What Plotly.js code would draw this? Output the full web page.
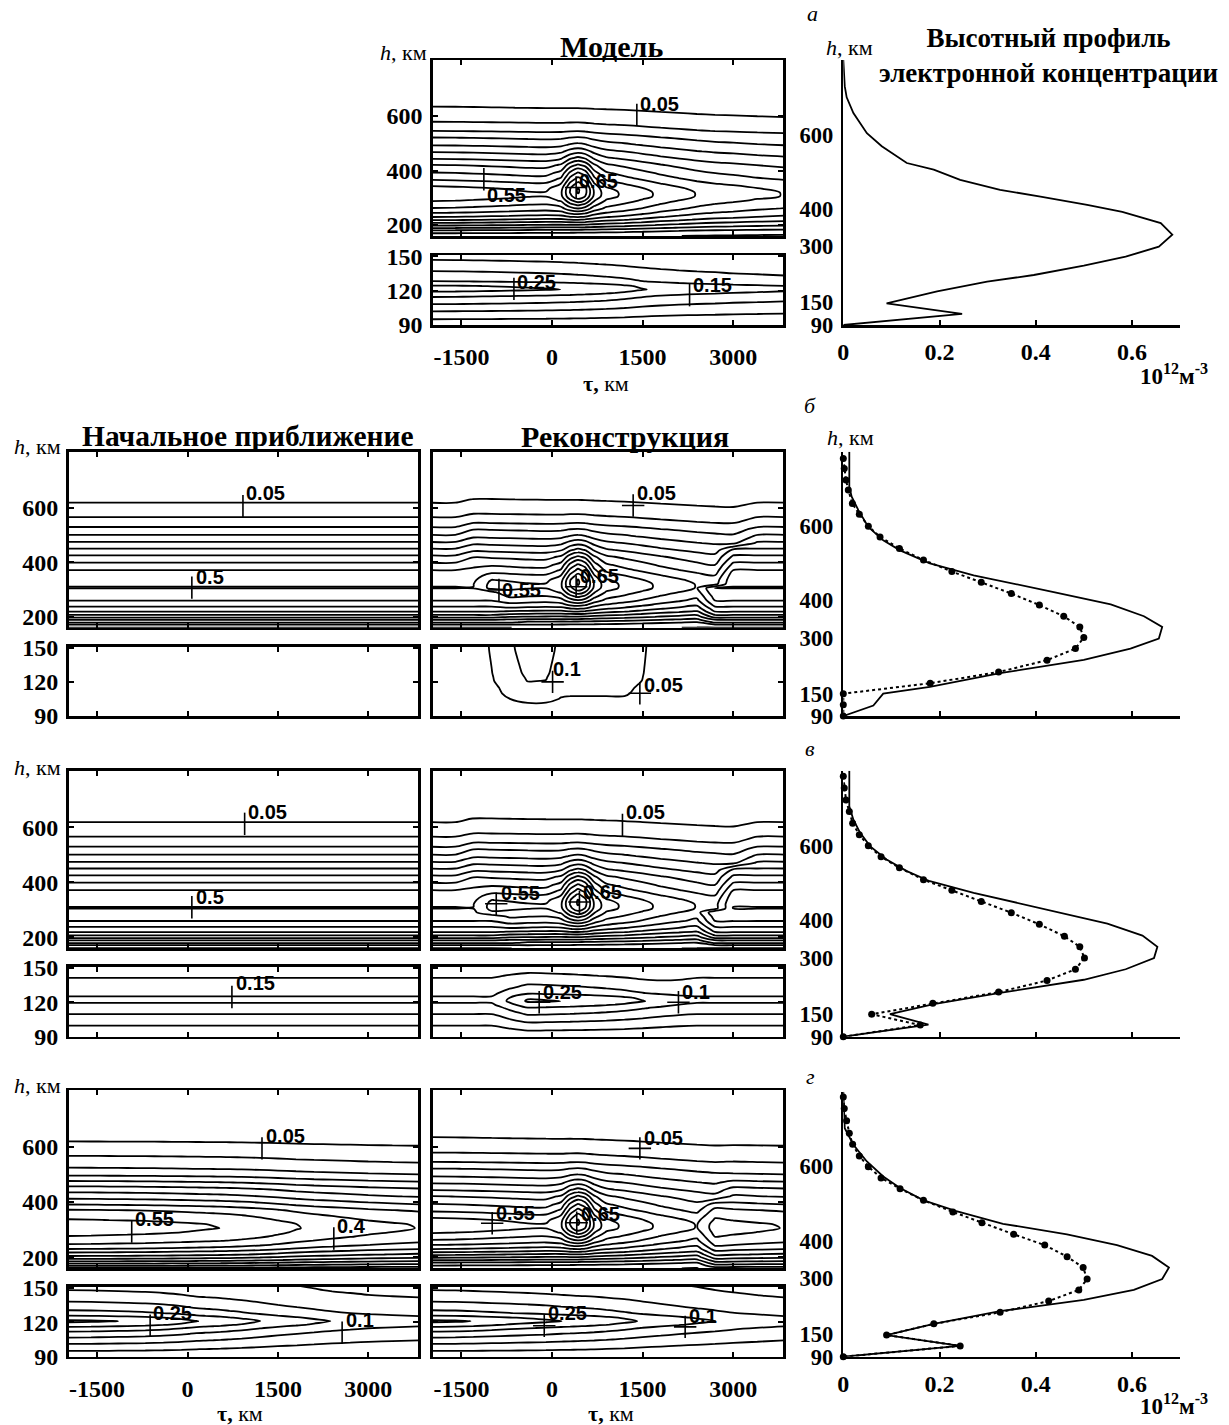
<!DOCTYPE html>
<html><head><meta charset="utf-8">
<script src="https://cdn.plot.ly/plotly-3.0.1.min.js"></script>
<style>html,body{margin:0;padding:0;background:#fff}#chart{width:1229px;height:1425px}</style>
</head><body><div id="chart"></div>
<script>
// ---------------- data ----------------
const TAU = [-2000,-1600,-1300,-1000,-700,-400,-100,150,300,430,550,700,900,1200,1500,1800,2100,2400,2700,3000,3400,3850];
const H_UP = [160,170,180,190,200,210,220,230,245,260,275,290,305,320,335,350,370,390,420,445,470,495,520,545,580,630,700,810];
const H_LO = [90,95,100,105,110,115,118,121,124,128,133,138,143,148,152];

// model: vertical profile at left edge, horizontal factor, local enhancement
const P_MODEL = [0.07,0.10,0.145,0.205,0.26,0.31,0.36,0.402,0.452,0.495,0.525,0.555,0.58,0.58,0.565,0.535,0.49,0.455,0.402,0.345,0.295,0.245,0.202,0.15,0.098,0.052,0.02,0.004];
const G_MODEL = [1.0,0.993,0.985,0.975,0.965,0.953,0.94,0.928,0.92,0.91,0.902,0.892,0.875,0.845,0.8,0.755,0.72,0.685,0.66,0.645,0.62,0.60];
const PE_MODEL = [0.0,0.05,0.085,0.125,0.165,0.205,0.24,0.27,0.255,0.202,0.17,0.145,0.115,0.095,0.085];
const GE_MODEL = [1.0,0.993,0.985,0.975,0.965,0.953,0.94,0.925,0.915,0.903,0.893,0.878,0.855,0.81,0.75,0.71,0.68,0.66,0.645,0.625,0.61,0.59];
const BUMP_AMP = 0.24;
const BUMP_H = [0,0,0.01,0.02,0.04,0.07,0.11,0.16,0.26,0.4,0.56,0.72,0.86,0.95,1.0,0.98,0.92,0.82,0.6,0.42,0.27,0.16,0.09,0.05,0.02,0.005,0,0];
const BUMP_T = [0,0,0,0,0,0,0.03,0.24,0.74,1.0,0.85,0.34,0.05,0,0,0,0,0,0,0,0,0];

// initial approximations
const P_INIT_BV = [0.048,0.09,0.16,0.205,0.27,0.315,0.355,0.38,0.42,0.452,0.47,0.49,0.5005,0.499,0.49,0.48,0.452,0.415,0.36,0.31,0.258,0.21,0.164,0.125,0.082,0.04,0.013,0.003];
const PE_INIT_B = [0,0,0,0,0,0,0,0,0,0,0,0,0,0,0];
const PE_INIT_V = [0.0,0.027,0.052,0.075,0.102,0.125,0.142,0.158,0.154,0.14,0.125,0.11,0.095,0.08,0.07];
const P_INIT_G = [0.09,0.16,0.22,0.28,0.33,0.375,0.41,0.451,0.495,0.525,0.548,0.565,0.575,0.572,0.553,0.535,0.505,0.452,0.38,0.33,0.265,0.201,0.155,0.125,0.085,0.04,0.013,0.003];
const G_INIT_G = [1.0,0.997,0.993,0.99,0.986,0.98,0.973,0.966,0.962,0.959,0.956,0.95,0.94,0.923,0.9,0.875,0.855,0.84,0.825,0.81,0.795,0.78];
const PE_INIT_G = [0.0,0.05,0.09,0.135,0.18,0.235,0.28,0.31,0.275,0.22,0.18,0.15,0.12,0.1,0.09];
const GE_INIT_G = [1.0,0.99,0.975,0.96,0.94,0.91,0.865,0.81,0.79,0.775,0.76,0.735,0.705,0.65,0.6,0.56,0.52,0.48,0.455,0.43,0.41,0.39];

// reconstructions: window edges (upper) and weights (lower)
const EDGE_H = [160,250,400,810];
const B_LEFT = [-650,-850,-1350,-1500], B_RIGHT = [2450,2550,2950,3250];
const V_LEFT = [-600,-900,-1350,-1500], V_RIGHT = [2500,2600,2950,3250];
const G_LEFT = [-2500,-2500,-2500,-2500], G_RIGHT = [2600,2650,2700,2700];
const PE_RECON_B = [0,0.012,0.03,0.045,0.055,0.06,0.065,0.07,0.072,0.075,0.077,0.079,0.081,0.083,0.084];
const W_LO_B = [0,0,0.3,0.65,1.1,1.45,1.42,1.05,1.0,1.0,1.0,1.0,1.0,1.0,0.7,0.2,0,0,0,0,0,0];
const W_LO_V = [0,0,0,0,0.5,1,1,1,1,1,1,1,1,1,1,0.8,0.4,0,0,0,0,0];
const W_LO_G = [0,0,0.1,0.3,0.5,0.6,0.65,0.65,0.65,0.65,0.65,0.65,0.6,0.6,0.55,0.5,0.45,0.4,0.3,0.2,0.1,0];

// contour labels: [text, mark tau, mark h, text tau, text h, mark style]
const LBL_MODEL_UP = [['0.05',1405,604,1430,645,'|'],['0.55',-1128,368,-1111,310,'|'],['0.65',400,338,420,362,'+']];
const LBL_MODEL_LO = [['0.25',-630,121.5,-614,127.7,'|'],['0.15',2278,116,2295,125,'|']];
const LBL_INIT_B_UP = [['0.05',920,605,943,654,'|'],['0.5',72,307,100,346,'|']];
const LBL_RECON_B_UP = [['0.05',1344,608,1372,654,'+'],['0.55',-878,298,-855,298,'+'],['0.65',400,310,430,350,'+']];
const LBL_RECON_B_LO = [['0.1',10,120,-17,131.5,'+'],['0.05',1455,110,1484,117,'+']];
const LBL_INIT_V_UP = [['0.05',948,612,970,654,'|'],['0.5',72,309,100,346,'|']];
const LBL_INIT_V_LO = [['0.15',737,124.6,765,136.5,'|']];
const LBL_RECON_V_UP = [['0.05',1167,608,1187,654,'|'],['0.55',-923,322,-878,362,'+'],['0.65',455,328,480,365,'+']];
const LBL_RECON_V_LO = [['0.25',-212,120,-183,129,'+'],['0.1',2094,120,2117,129,'+']];
const LBL_INIT_G_UP = [['0.05',1236,594,1264,639,'|'],['0.55',-926,293,-900,337,'|'],['0.4',2428,268,2450,314,'|']];
const LBL_INIT_G_LO = [['0.25',-620,117,-604,128,'|'],['0.1',2566,111,2594,122,'|']];
const LBL_RECON_G_UP = [['0.05',1455,594,1484,633,'+'],['0.55',-990,323,-962,361,'+'],['0.65',410,325,450,355,'+']];
const LBL_RECON_G_LO = [['0.25',-128,117,-100,128,'+'],['0.1',2205,116,2233,125.5,'+']];

// height profiles (10^12 m^-3 vs km)
const PA_H = [800,760,730,700,658,604,569,524,506,479,452,434,412,393,363,332,300,273,249,224,206,180,148,120,90];
const PA_V = [0,0.001,0.003,0.007,0.021,0.049,0.080,0.132,0.188,0.243,0.326,0.41,0.507,0.58,0.66,0.684,0.656,0.587,0.5,0.396,0.299,0.195,0.09,0.247,0];
const PB_SOLID_H = [800,706,679,643,598,562,535,500,468,446,423,390,358,329,298,271,241,205,168,150,118,90];
const PB_SOLID_V = [0.0125,0.0125,0.0174,0.0313,0.052,0.083,0.118,0.18,0.271,0.354,0.4375,0.556,0.625,0.663,0.656,0.597,0.5,0.326,0.18,0.083,0.0625,0];
const PB_DOT_H = [782,755,724,697,661,632,600,571,540,509,478,449,419,388,358,329,301,271,240,208,178,150,120,90];
const PB_DOT_V = [0,0.002,0.0056,0.0104,0.0188,0.0333,0.0521,0.0764,0.1167,0.1667,0.2257,0.2868,0.3493,0.4076,0.4583,0.4917,0.5,0.4826,0.4236,0.3229,0.1806,0,0,0];
const PV_SOLID_H = [800,705,669,634,598,563,532,505,474,452,421,392,360,330,300,270,242,207,177,150,122,90];
const PV_SOLID_V = [0.0125,0.0125,0.021,0.035,0.056,0.09,0.132,0.18,0.271,0.347,0.451,0.549,0.622,0.653,0.646,0.587,0.5,0.326,0.188,0.097,0.177,0];
const PV_DOT_H = [785,754,722,691,660,629,600,570,541,509,481,451,421,390,358,330,300,270,240,209,179,150,121,90];
const PV_DOT_V = [0,0.002,0.0056,0.0125,0.0194,0.0333,0.052,0.0785,0.1167,0.1667,0.2257,0.2868,0.3493,0.4076,0.4597,0.4917,0.5014,0.4826,0.4236,0.3229,0.1861,0.059,0.16,0];
const PG_SOLID_H = [800,702,658,613,573,542,509,480,446,418,389,360,329,298,269,242,212,178,148,119,90];
const PG_SOLID_V = [0,0.003,0.021,0.049,0.083,0.118,0.167,0.235,0.332,0.465,0.569,0.642,0.677,0.663,0.604,0.5,0.326,0.188,0.09,0.243,0];
const PG_DOT_H = [786,755,722,689,659,628,599,569,540,509,478,449,418,389,358,329,298,269,239,209,178,148,119,90];
const PG_DOT_V = [0,0.002,0.0069,0.0125,0.0194,0.0333,0.052,0.0785,0.118,0.1667,0.2278,0.2882,0.3542,0.4188,0.4653,0.4986,0.5069,0.4896,0.427,0.326,0.1882,0.09,0.243,0];

const TAU_TICKS = [-1500,0,1500,3000], TAU_TICKTEXT = ['-1500','0','1500','3000'];
const UP_TICKS = [200,400,600], LO_TICKS = [90,120,150];
const PROF_XTICKS = [0,0.2,0.4,0.6], PROF_XTEXT = ['0','0.2','0.4','0.6'];
const PROF_YTICKS = [90,150,300,400,600];

// ---------------- fields (tables built from the arrays) ----------------
const outer = (P,G) => P.map(p => G.map(g => p*g));
const flat = P => P.map(p => TAU.map(() => p));
function edgeAt(hs, es, h){
  for (let i=0;i<hs.length-1;i++){ if (h<=hs[i+1]) { const f=(h-hs[i])/(hs[i+1]-hs[i]); return es[i]+f*(es[i+1]-es[i]); } }
  return es[es.length-1];
}
const mask = (L,R) => H_UP.map(h => { const l=edgeAt(EDGE_H,L,h), r=edgeAt(EDGE_H,R,h); return TAU.map(t => (t>=l && t<=r)?1:0); });
const blend = (A,B,W) => A.map((row,i)=>row.map((a,j)=>W[i][j]*a+(1-W[i][j])*B[i][j]));
const colW = w => H_LO.map(() => w.slice());

const zModelUp = P_MODEL.map((p,i)=>G_MODEL.map((g,j)=>p*g + BUMP_AMP*BUMP_H[i]*BUMP_T[j]));
const zModelLo = outer(PE_MODEL, GE_MODEL);
const zInitBVUp = flat(P_INIT_BV);
const zInitBLo = flat(PE_INIT_B);
const zInitVLo = flat(PE_INIT_V);
const zInitGUp = outer(P_INIT_G, G_INIT_G);
const zInitGLo = outer(PE_INIT_G, GE_INIT_G);
const zReconBUp = blend(zModelUp, zInitBVUp, mask(B_LEFT,B_RIGHT));
const zReconBLo = outer(PE_RECON_B, W_LO_B);
const zReconVUp = blend(zModelUp, zInitBVUp, mask(V_LEFT,V_RIGHT));
const zReconVLo = blend(zModelLo, zInitVLo, colW(W_LO_V));
const zReconGUp = blend(zModelUp, zInitGUp, mask(G_LEFT,G_RIGHT));
const zReconGLo = blend(zModelLo, zInitGLo, colW(W_LO_G));

// ---------------- layout ----------------
const W = 1229, H = 1425;
const SERIF = 'Liberation Serif, "Times New Roman", serif';
const SANS = 'Liberation Sans, Arial, sans-serif';
const TICKFONT = {family:SERIF, size:24, color:'#000', weight:'bold'};
const PTICKFONT = {family:SERIF, size:22.5, color:'#000', weight:'bold'};
const traces = [];
const layout = {width:W, height:H, margin:{l:0,r:0,t:0,b:0}, paper_bgcolor:'#fff', plot_bgcolor:'rgba(0,0,0,0)', showlegend:false, annotations:[], font:{family:SERIF,color:'#000'}};
let nAx = 0;
function mkAxes(xpx, ypx, xo, yo){
  nAx++;
  const s = nAx===1 ? '' : String(nAx);
  layout['xaxis'+s] = Object.assign({domain:[xpx[0]/W, xpx[1]/W], anchor:'y'+s, fixedrange:true}, xo);
  layout['yaxis'+s] = Object.assign({domain:[1-ypx[1]/H, 1-ypx[0]/H], anchor:'x'+s, fixedrange:true}, yo);
  return {x:'x'+s, y:'y'+s};
}
const BOX = {showline:true, linewidth:2.5, linecolor:'#000', mirror:'ticks', ticks:'inside', ticklen:5, tickwidth:2, tickcolor:'#000', showgrid:false, zeroline:false, tickfont:TICKFONT};
const COLS = {L:[68.5,418.3], M:[432.7,783.3]};
const ROWS = {a:{up:[60,236],lo:[255,325]}, b:{up:[451.7,627.7],lo:[646.7,716]}, v:{up:[770.7,948.3],lo:[966.7,1036.7]}, g:{up:[1090,1268.3],lo:[1286.7,1356.7]}};

function contourPanel(col,row,part,z,labels,showX,showY){
  const up = part==='up';
  const ax = mkAxes(COLS[col], ROWS[row][part],
    Object.assign({}, BOX, {range:[-1975,3830], tickvals:TAU_TICKS, ticktext:TAU_TICKTEXT, showticklabels:showX, ticklabelstandoff:9}),
    Object.assign({}, BOX, {range: up?[160,805]:[90,151], tickvals: up?UP_TICKS:LO_TICKS, ticktext:(up?UP_TICKS:LO_TICKS).map(String), showticklabels:showY, ticklabelstandoff:3}));
  traces.push({type:'contour', x:TAU, y: up?H_UP:H_LO, z:z, xaxis:ax.x, yaxis:ax.y, autocontour:false,
    contours:{start:0.05, end:0.8, size:0.05, coloring:'lines', showlabels:false},
    colorscale:[[0,'#000'],[1,'#000']], showscale:false, line:{width:1.8, smoothing:0.9}, hoverinfo:'skip'});
  if (labels && labels.length){
    traces.push({type:'scatter', mode:'markers', x:labels.map(l=>l[1]), y:labels.map(l=>l[2]), xaxis:ax.x, yaxis:ax.y, hoverinfo:'skip', cliponaxis:false,
      marker:{symbol:labels.map(l=>l[5]==='+'?'cross-thin':'line-ns'), size:16, color:'#000', line:{color:'#000', width:1.6}}});
    labels.forEach(l => layout.annotations.push({xref:ax.x, yref:ax.y, x:l[3], y:l[4], text:l[0], showarrow:false, xanchor:'left', yanchor:'middle',
      font:{family:SANS, size:20, color:'#000', weight:'bold'}}));
  }
}

contourPanel('M','a','up',zModelUp,LBL_MODEL_UP,false,true);
contourPanel('M','a','lo',zModelLo,LBL_MODEL_LO,true,true);
contourPanel('L','b','up',zInitBVUp,LBL_INIT_B_UP,false,true);
contourPanel('L','b','lo',zInitBLo,[],false,true);
contourPanel('M','b','up',zReconBUp,LBL_RECON_B_UP,false,false);
contourPanel('M','b','lo',zReconBLo,LBL_RECON_B_LO,false,false);
contourPanel('L','v','up',zInitBVUp,LBL_INIT_V_UP,false,true);
contourPanel('L','v','lo',zInitVLo,LBL_INIT_V_LO,false,true);
contourPanel('M','v','up',zReconVUp,LBL_RECON_V_UP,false,false);
contourPanel('M','v','lo',zReconVLo,LBL_RECON_V_LO,false,false);
contourPanel('L','g','up',zInitGUp,LBL_INIT_G_UP,false,true);
contourPanel('L','g','lo',zInitGLo,LBL_INIT_G_LO,true,true);
contourPanel('M','g','up',zReconGUp,LBL_RECON_G_UP,false,false);
contourPanel('M','g','lo',zReconGLo,LBL_RECON_G_LO,true,false);

// profile panels
const PROF_X = [843.3,1180];
function profilePanel(ypx, showX, solidH, solidV, dotH, dotV){
  const ax = mkAxes(PROF_X, ypx,
    {range:[0,0.7], tickvals:PROF_XTICKS, ticktext:PROF_XTEXT, showticklabels:showX, showline:true, linewidth:2.5, linecolor:'#000', ticks:'inside', ticklen:5, tickwidth:2, tickcolor:'#000', showgrid:false, zeroline:false, tickfont:TICKFONT, ticklabelstandoff:4},
    {range:[90,800], tickvals:PROF_YTICKS, ticktext:PROF_YTICKS.map(String), showline:true, linewidth:2.5, linecolor:'#000', ticks:'', showgrid:false, zeroline:false, tickfont:PTICKFONT, ticklabelstandoff:3});
  traces.push({type:'scatter', mode:'lines', x:solidV, y:solidH, xaxis:ax.x, yaxis:ax.y, line:{color:'#000', width:1.8}, hoverinfo:'skip', cliponaxis:false});
  if (dotH) traces.push({type:'scatter', mode:'lines+markers', x:dotV, y:dotH, xaxis:ax.x, yaxis:ax.y, line:{color:'#000', width:2, dash:'dot'}, marker:{size:7, color:'#000'}, hoverinfo:'skip', cliponaxis:false});
}
profilePanel([60,325], true, PA_H, PA_V, null, null);
profilePanel([451.7,716], false, PB_SOLID_H, PB_SOLID_V, PB_DOT_H, PB_DOT_V);
profilePanel([770.7,1036.7], false, PV_SOLID_H, PV_SOLID_V, PV_DOT_H, PV_DOT_V);
profilePanel([1091.7,1356.7], true, PG_SOLID_H, PG_SOLID_V, PG_DOT_H, PG_DOT_V);

// paper annotations (titles, axis names, panel letters)
function note(x,y,text,font,extra){ layout.annotations.push(Object.assign({xref:'paper', yref:'paper', x:x/W, y:1-y/H, text:text, showarrow:false, xanchor:'center', yanchor:'middle', font:font}, extra||{})); }
const TITLEF = s => ({family:SERIF, size:s, color:'#000', weight:'bold'});
note(611,46,'Модель',TITLEF(30));
note(1048,56,'Высотный профиль<br>электронной концентрации',TITLEF(27),{align:'center'});
note(248,436,'Начальное приближение',TITLEF(29.5));
note(625,436,'Реконструкция',TITLEF(30));
const HF = {family:SERIF, size:22, color:'#000'};
note(403,53,'<i>h</i>, км',HF);
note(849,47,'<i>h</i>, км',HF);
note(37,446,'<i>h</i>, км',HF);
note(850,438,'<i>h</i>, км',HF);
note(37,767,'<i>h</i>, км',HF);
note(37,1085,'<i>h</i>, км',HF);
const TF = {family:SERIF, size:22, color:'#000'};
note(606,383,'<b>τ,</b> км',TF);
note(240,1413,'<b>τ,</b> км',TF);
note(611,1413,'<b>τ,</b> км',TF);
const UF = {family:SERIF, size:23, color:'#000', weight:'bold'};
note(1174,375,'10<sup>12</sup>м<sup>-3</sup>',UF);
note(1174,1404,'10<sup>12</sup>м<sup>-3</sup>',UF);
const LF = {family:SERIF, size:22, color:'#000', style:'italic'};
note(812,14,'<i>а</i>',LF);
note(810,406,'<i>б</i>',LF);
note(810,748,'<i>в</i>',LF);
note(810,1076,'<i>г</i>',LF);

Plotly.newPlot('chart', traces, layout, {staticPlot:true, displayModeBar:false});
</script></body></html>
